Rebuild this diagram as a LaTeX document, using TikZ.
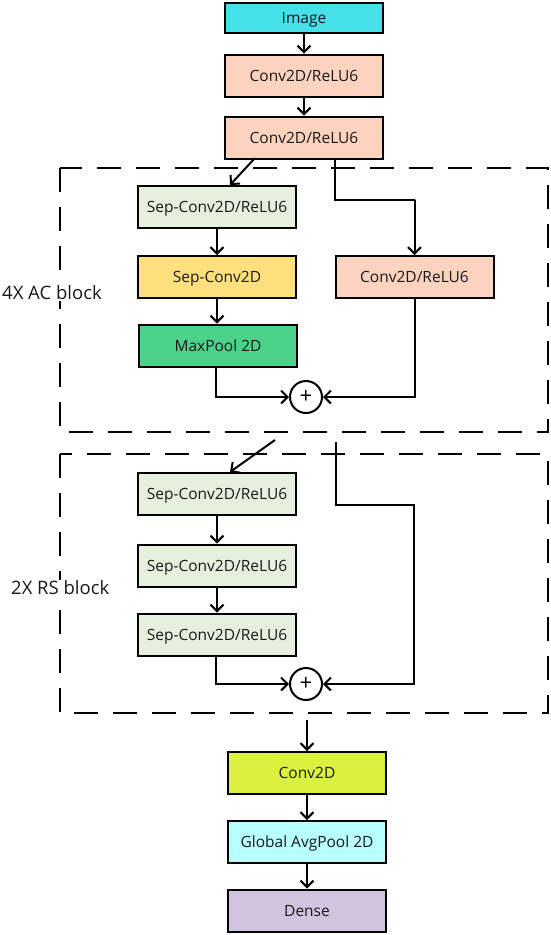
\documentclass[tikz,border=0pt]{standalone}
\usepackage{fontspec}
\setmainfont{Open Sans}
\usetikzlibrary{arrows.meta,calc}
\definecolor{cimg}{HTML}{45E0E8}
\definecolor{cconv}{HTML}{FCD3BE}
\definecolor{csep}{HTML}{E6F0DF}
\definecolor{cyel}{HTML}{FFE07C}
\definecolor{cmax}{HTML}{4CD28A}
\definecolor{clime}{HTML}{DCF040}
\definecolor{ccyan}{HTML}{B8FFFF}
\definecolor{cdense}{HTML}{D2C3DE}
\tikzset{
  blk/.style={draw=black, line width=2pt, minimum width=158pt, minimum height=42pt, inner sep=0pt, font=\fontsize{15.5}{17}\selectfont, text=black!90, text height=11pt, text depth=0pt},
  arr/.style={line width=2pt, -{Straight Barb[length=6.5pt,width=13pt,line width=2pt]}},
  plusnode/.style={draw=black, line width=2pt, circle, minimum size=32pt, inner sep=0pt, fill=white},
  dbox/.style={draw=black, line width=2pt, dash pattern=on 24pt off 15pt},
  lbl/.style={font=\fontsize{18.5}{22}\selectfont, text=black!90, anchor=west, inner sep=1pt, fill=white},
}
\begin{document}
\begin{tikzpicture}[x=1pt,y=1pt]
\useasboundingbox (0,0) rectangle (550,-935);
% dashed blocks
\draw[dbox] (60,-168) rectangle (548,-432);
\draw[dbox] (60,-454) rectangle (548,-713);
% top nodes
\node[blk, fill=cimg, minimum height=30pt] (img) at (304,-18) {Image};
\node[blk, fill=cconv] (c1) at (304,-75.5) {Conv2D/ReLU6};
\node[blk, fill=cconv] (c2) at (304,-137.5) {Conv2D/ReLU6};
% AC block
\node[blk, fill=csep] (s1) at (217,-207) {Sep-Conv2D/ReLU6};
\node[blk, fill=cyel] (s2) at (217,-277) {Sep-Conv2D};
\node[blk, fill=cmax] (mp) at (218,-345.5) {MaxPool 2D};
\node[blk, fill=cconv] (c3) at (414.5,-277) {Conv2D/ReLU6};
\node[plusnode] (p1) at (306,-397) {\fontsize{22}{22}\selectfont +};
\node[lbl] (l1) at (1,-293) {4X AC block};
% RS block
\node[blk, fill=csep] (r1) at (217,-494) {Sep-Conv2D/ReLU6};
\node[blk, fill=csep] (r2) at (217,-565.5) {Sep-Conv2D/ReLU6};
\node[blk, fill=csep] (r3) at (217,-634.5) {Sep-Conv2D/ReLU6};
\node[plusnode] (p2) at (306,-684) {\fontsize{22}{22}\selectfont +};
\node[lbl] (l2) at (10,-588) {2X RS block};
% bottom nodes
\node[blk, fill=clime] (cv) at (307,-773) {Conv2D};
\node[blk, fill=ccyan] (gap) at (307,-842) {Global AvgPool 2D};
\node[blk, fill=cdense] (dn) at (307,-910.5) {Dense};
% coordinates
\coordinate (d1a) at (255,-158);
\coordinate (d1b) at (335,-158);
\coordinate (d2a) at (275,-440);
\coordinate (d2b) at (336,-442);
\coordinate (d3a) at (307,-720);
% connectors
\draw[arr] (img) -- (c1);
\draw[arr] (c1) -- (c2);
\draw[arr] (d1a) -- (s1.north -| 230,0);
\draw[arr] (d1b) |- (415,-200) -| (c3.north);
\draw[arr] (s1) -- (s2);
\draw[arr] (s2.south) -- (s2.south |- mp.north);
\draw[arr] (mp.south -| 216,0) |- (p1.west);
\draw[arr] (c3.south) |- (p1.east);
\draw[arr] (d2a) -- (r1.north -| 230,0);
\draw[arr] (d2b) |- (414,-505) |- (p2.east);
\draw[arr] (r1) -- (r2);
\draw[arr] (r2) -- (r3);
\draw[arr] (r3.south -| 216,0) |- (p2.west);
\draw[arr] (d3a) -- (cv.north);
\draw[arr] (cv) -- (gap);
\draw[arr] (gap) -- (dn);
\end{tikzpicture}
\end{document}
